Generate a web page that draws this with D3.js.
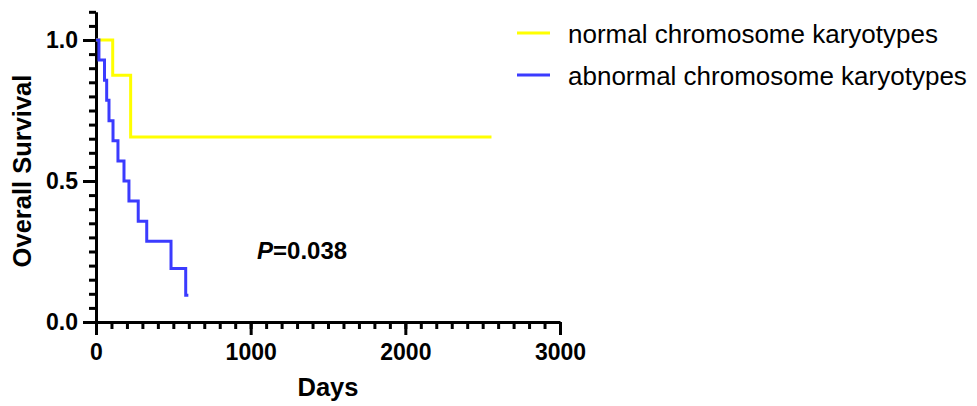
<!DOCTYPE html>
<meta charset="utf-8">
<style>
body { margin: 0; background: #fff; font-family: "Liberation Sans", Arial, sans-serif; }
.axis path, .axis line { stroke: #000; stroke-width: 3px; }
.axis text { font-weight: bold; font-size: 23px; fill: #000; font-family: "Liberation Sans", Arial, sans-serif; }
.title { font-weight: bold; font-size: 25.5px; }
.pval { font-weight: bold; font-size: 24px; }
.legend text { font-size: 26px; }
</style>
<body>
<script src="https://d3js.org/d3.v7.min.js"></script>
<script>
// Kaplan-Meier steps
var normalDays = [0, 108, 224, 2557];
var normalSurv = [1, 0.875, 0.656, 0.656];

var abnormalDays = [0, 19, 55, 69, 84, 110, 142, 181, 213, 273, 328, 485, 580, 597];
var abnormalSurv = [1, 0.929, 0.857, 0.786, 0.714, 0.643, 0.571, 0.5, 0.429, 0.357, 0.286, 0.190, 0.095, 0.095];

var seriesNames = ["normal chromosome karyotypes", "abnormal chromosome karyotypes"];
var seriesColors = ["#ffff00", "#3b3bff"];

var xMajor = [0, 1000, 2000, 3000];
var yMajor = [0, 0.5, 1.0];

var width = 977,
    height = 406;

var x = d3.scaleLinear().domain([0, 3000]).range([96, 560]);
var y = d3.scaleLinear().domain([0, 1.1]).range([322, 11.8]);

var svg = d3.select("body").append("svg")
    .attr("width", width)
    .attr("height", height);

var series = [
  normalDays.map(function(d, i) { return [d, normalSurv[i]]; }),
  abnormalDays.map(function(d, i) { return [d, abnormalSurv[i]]; })
];

var line = d3.line()
    .x(function(d) { return x(d[0]); })
    .y(function(d) { return y(d[1]); })
    .curve(d3.curveStepAfter);

// minor ticks
svg.append("g")
    .attr("class", "axis")
    .attr("transform", "translate(0,322)")
    .call(d3.axisBottom(x).tickValues(d3.range(0, 3001, 100)).tickSize(7).tickSizeOuter(0).tickFormat(""))
    .select(".domain").remove();

svg.append("g")
    .attr("class", "axis")
    .attr("transform", "translate(96,0)")
    .call(d3.axisLeft(y).tickValues(d3.range(0, 23).map(function(i) { return i * 0.05; })).tickSize(7).tickSizeOuter(0).tickFormat(""))
    .select(".domain").remove();

// major axes
svg.append("g")
    .attr("class", "axis")
    .attr("transform", "translate(0,322)")
    .call(d3.axisBottom(x).tickValues(xMajor).tickSize(13).tickSizeOuter(0).tickPadding(9).tickFormat(d3.format("d")));

svg.append("g")
    .attr("class", "axis")
    .attr("transform", "translate(96,0)")
    .call(d3.axisLeft(y).tickValues(yMajor).tickSize(13).tickSizeOuter(0).tickPadding(5).tickFormat(d3.format(".1f")));

svg.selectAll(".axis line").attr("stroke-linecap", "butt");

svg.selectAll(".km")
    .data(series)
  .enter().append("path")
    .attr("class", "km")
    .attr("fill", "none")
    .attr("stroke", function(d, i) { return seriesColors[i]; })
    .attr("stroke-width", 3)
    .attr("d", line);

svg.append("text")
    .attr("class", "title")
    .attr("x", 328)
    .attr("y", 396)
    .attr("text-anchor", "middle")
    .text("Days");

svg.append("text")
    .attr("class", "title")
    .attr("transform", "translate(31,171) rotate(-90)")
    .attr("text-anchor", "middle")
    .text("Overall Survival");

var p = svg.append("text")
    .attr("class", "pval")
    .attr("x", 257)
    .attr("y", 259);
p.append("tspan").attr("font-style", "italic").text("P");
p.append("tspan").text("=0.038");

var legend = svg.append("g").attr("class", "legend")
    .selectAll("g")
    .data(seriesNames)
  .enter().append("g")
    .attr("transform", function(d, i) { return "translate(0," + (i * 42) + ")"; });

legend.append("line")
    .attr("x1", 517).attr("x2", 550)
    .attr("y1", 33).attr("y2", 33)
    .attr("stroke", function(d, i) { return seriesColors[i]; })
    .attr("stroke-width", 3);

legend.append("text")
    .attr("x", 568)
    .attr("y", 43)
    .text(function(d) { return d; });
</script>
